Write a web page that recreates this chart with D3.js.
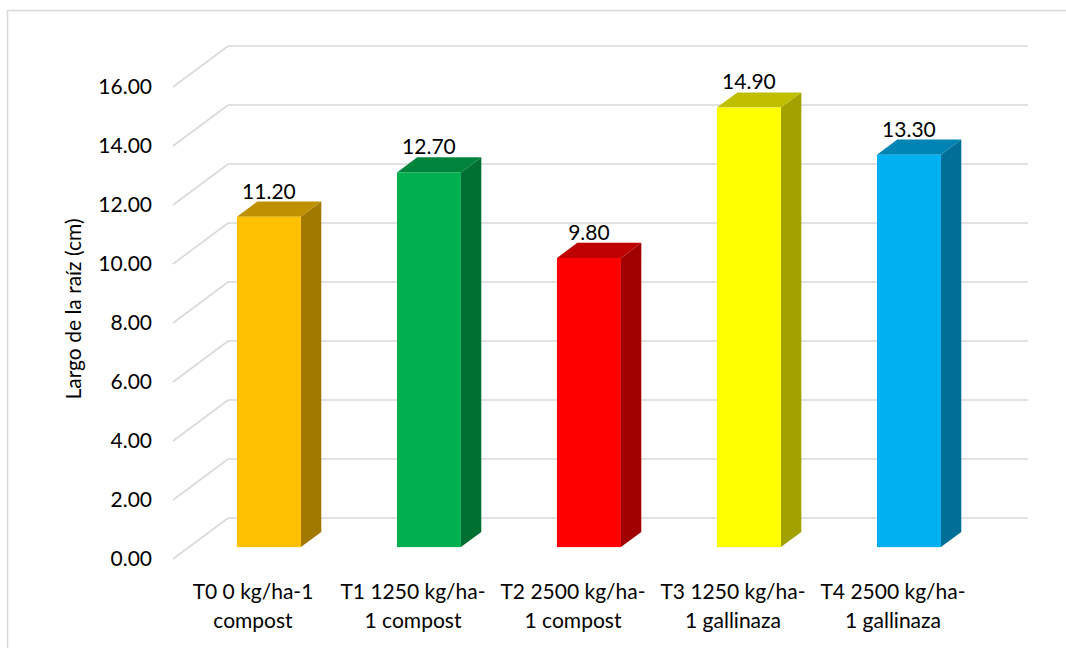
<!DOCTYPE html>
<html>
<head>
<meta charset="utf-8">
<script src="https://cdn.jsdelivr.net/npm/d3@7"></script>
<style>
  html, body { margin: 0; padding: 0; background: #fff; }
  svg { display: block; }
  text { font-family: Lato, "Open Sans", sans-serif; fill: #000; }
</style>
</head>
<body>
<svg id="chart" width="1066" height="648"></svg>
<script>
// Root length per treatment
const categories = [
  ["T0 0 kg/ha-1", "compost"],
  ["T1 1250 kg/ha-", "1 compost"],
  ["T2 2500 kg/ha-", "1 compost"],
  ["T3 1250 kg/ha-", "1 gallinaza"],
  ["T4 2500 kg/ha-", "1 gallinaza"]
];
const values = [11.20, 12.70, 9.80, 14.90, 13.30];
const yTicks = [0, 2, 4, 6, 8, 10, 12, 14, 16];
const yTitle = "Largo de la raíz (cm)";
const frontColors = ["#FFC000", "#00B050", "#FF0000", "#FFFF00", "#00B0F0"];

const svg = d3.select("#chart");
const W = 1066, H = 648;

// Outer chart border
svg.append("rect")
  .attr("x", 7.5).attr("y", 10.5)
  .attr("width", W + 10).attr("height", H + 10)
  .attr("fill", "none").attr("stroke", "#D9D9D9").attr("stroke-width", 1.5);

// Oblique projection: u = horizontal position along floor, v = value, d = depth (0 front, 1 back)
const X0 = 173;          // front-left corner of the floor
const DX = 55, DY = 41;  // offset from front edge to back wall
const floorWidth = 800;

const x = d3.scaleBand()
  .domain(categories.map((c, i) => i))
  .range([0, floorWidth])
  .paddingInner(0.6)
  .paddingOuter(0.3);

const y = d3.scaleLinear().domain([0, 16]).range([559, 87]);

const proj = (u, v, d) => [X0 + u + DX * d, y(v) - DY * d];

// Gridlines: side-wall diagonal then back-wall horizontal
const grid = svg.append("g");
yTicks.forEach(t => {
  const pts = [proj(0, t, 0), proj(0, t, 1), proj(floorWidth, t, 1)];
  grid.append("path")
    .attr("d", d3.line()(pts))
    .attr("fill", "none")
    .attr("stroke", "#D9D9D9")
    .attr("stroke-width", 1.6);
});

// Value axis labels
const axis = d3.axisLeft(y)
  .tickValues(yTicks)
  .tickSize(0)
  .tickPadding(0)
  .tickFormat(d3.format(".2f"));
const ax = svg.append("g").attr("transform", "translate(152,0)").call(axis);
ax.select(".domain").remove();
ax.selectAll("text")
  .attr("font-family", "Lato, 'Open Sans', sans-serif")
  .attr("font-size", 21)
  .attr("fill", "#000");

// Axis title
svg.append("text")
  .attr("transform", "translate(81,309) rotate(-90)")
  .attr("text-anchor", "middle")
  .attr("font-size", 21)
  .text(yTitle);

// Bars as front face + top + side
const d0 = 0.29, d1 = 0.66;
const shade = (c, k) => {
  const r = d3.rgb(c);
  return d3.rgb(r.r * k, r.g * k, r.b * k).formatHex();
};

const bars = svg.append("g");
values.forEach((v, i) => {
  const u0 = x(i), u1 = x(i) + x.bandwidth();
  const fbl = proj(u0, 0, d0), fbr = proj(u1, 0, d0);
  const ftl = proj(u0, v, d0), ftr = proj(u1, v, d0);
  const btl = proj(u0, v, d1), btr = proj(u1, v, d1);
  const bbr = proj(u1, 0, d1);
  const col = frontColors[i];

  // side face
  bars.append("path")
    .attr("d", d3.line()([fbr, ftr, btr, bbr]) + "Z")
    .attr("fill", shade(col, 0.63));
  // top face
  bars.append("path")
    .attr("d", d3.line()([ftl, ftr, btr, btl]) + "Z")
    .attr("fill", shade(col, 0.75));
  // front face
  bars.append("rect")
    .attr("x", ftl[0]).attr("y", ftl[1])
    .attr("width", ftr[0] - ftl[0])
    .attr("height", fbl[1] - ftl[1])
    .attr("fill", col);

  // value label above the bar
  bars.append("text")
    .attr("x", (ftl[0] + ftr[0]) / 2)
    .attr("y", btl[1] - 3)
    .attr("text-anchor", "middle")
    .attr("font-size", 21)
    .text(d3.format(".2f")(v));
});

// Category labels (two lines each)
const cats = svg.append("g");
categories.forEach((lines, i) => {
  const cx = X0 + x(i) + x.bandwidth() / 2;
  const t = cats.append("text")
    .attr("text-anchor", "middle")
    .attr("font-size", 21);
  lines.forEach((ln, j) => {
    t.append("tspan")
      .attr("x", cx)
      .attr("y", 599 + j * 29)
      .text(ln);
  });
});
</script>
</body>
</html>
